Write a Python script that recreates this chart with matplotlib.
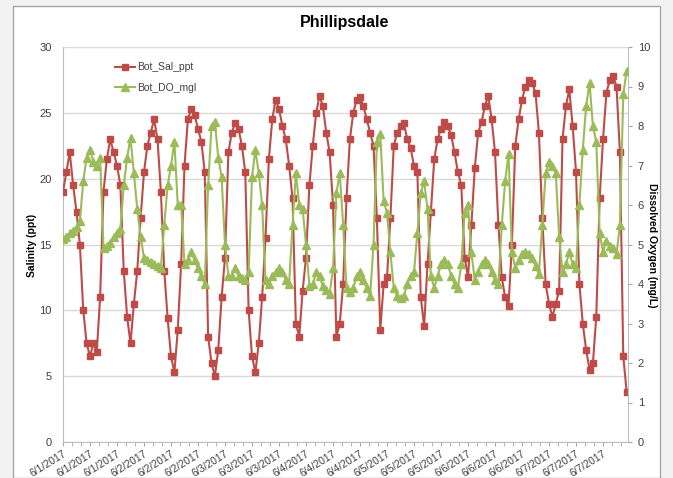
import matplotlib
matplotlib.use("Agg")
import matplotlib.pyplot as plt
import numpy as np
from matplotlib.patches import Rectangle

plt.rcParams['font.family'] = ['Liberation Sans Narrow', 'Liberation Sans', 'DejaVu Sans']

title = "Phillipsdale"
sal_label = "Bot_Sal_ppt"
do_label = "Bot_DO_mgl"

# hourly readings starting 6/1/2017 00:00
salinity = [19.0, 20.5, 22.0, 19.5, 17.5, 15.0, 10.0, 7.5, 6.5, 7.5, 6.8, 11.0,
            19.0, 21.5, 23.0, 22.0, 21.0, 19.5, 13.0, 9.5, 7.5, 10.5, 13.0, 17.0,
            20.5, 22.5, 23.5, 24.5, 23.0, 19.0, 13.0, 9.4, 6.5, 5.3, 8.5, 13.5,
            21.0, 24.5, 25.3, 24.8, 23.8, 22.8, 20.5, 8.0, 6.0, 5.0, 7.0, 11.0,
            14.0, 22.0, 23.5, 24.2, 23.8, 22.5, 20.5, 10.0, 6.5, 5.3, 7.5, 11.0,
            15.5, 21.5, 24.5, 26.0, 25.3, 24.0, 23.0, 21.0, 18.5, 9.0, 8.0, 11.5,
            14.0, 19.5, 22.5, 25.0, 26.3, 25.5, 23.5, 22.0, 18.0, 8.0, 9.0, 12.0,
            18.5, 23.0, 25.0, 26.0, 26.2, 25.5, 24.5, 23.5, 22.5, 17.0, 8.5, 12.0,
            12.5, 17.0, 22.5, 23.5, 24.0, 24.2, 23.0, 22.3, 21.0, 20.5, 11.0, 8.8,
            13.5, 17.5, 21.5, 23.0, 23.8, 24.3, 24.0, 23.3, 22.0, 20.5, 19.5, 14.0,
            12.5, 16.5, 20.8, 23.5, 24.3, 25.5, 26.3, 24.5, 22.0, 16.5, 12.5, 11.0,
            10.3, 15.0, 22.5, 24.5, 26.0, 27.0, 27.5, 27.3, 26.5, 23.5, 17.0, 12.0,
            10.5, 9.5, 10.5, 11.5, 23.0, 25.5, 26.8, 24.0, 20.5, 12.0, 9.0, 7.0,
            5.5, 6.0, 9.5, 18.5, 23.0, 26.5, 27.5, 27.8, 27.0, 22.0, 6.5, 3.8]

dissolved_oxygen = [5.15, 5.2, 5.3, 5.35, 5.45, 5.6, 6.6, 7.2, 7.4, 7.1, 7.0, 7.2,
                    4.9, 4.95, 5.05, 5.2, 5.3, 5.4, 6.5, 7.2, 7.7, 6.8, 5.9, 5.2,
                    4.65, 4.6, 4.55, 4.5, 4.45, 4.4, 5.5, 6.5, 7.0, 7.6, 6.0, 6.0,
                    4.5, 4.6, 4.8, 4.6, 4.4, 4.2, 4.0, 6.5, 8.0, 8.1, 7.2, 6.7,
                    5.0, 4.2, 4.2, 4.4, 4.2, 4.15, 4.1, 4.3, 6.7, 7.4, 6.8, 6.0,
                    4.1, 4.0, 4.2, 4.3, 4.4, 4.3, 4.1, 4.0, 5.5, 6.8, 6.0, 5.9,
                    5.0, 3.95, 4.0, 4.3, 4.2, 3.95, 3.85, 3.75, 4.4, 6.3, 6.8, 5.5,
                    3.9, 3.8, 3.9, 4.2, 4.3, 4.1, 3.9, 3.7, 5.0, 7.6, 7.8, 6.1,
                    5.8, 4.8, 3.9, 3.7, 3.65, 3.7, 4.0, 4.2, 4.3, 5.3, 6.3, 6.6,
                    5.9, 4.2, 3.9, 4.2, 4.5, 4.6, 4.5, 4.2, 4.0, 3.9, 4.5, 5.8,
                    6.0, 4.8, 4.1, 4.3, 4.5, 4.6, 4.5, 4.3, 4.1, 4.0, 5.5, 6.6,
                    7.3, 4.8, 4.4, 4.6, 4.75, 4.8, 4.75, 4.65, 4.45, 4.25, 5.5, 6.8,
                    7.1, 7.0, 6.8, 5.2, 4.3, 4.5, 4.8, 4.5, 4.4, 6.0, 7.4, 8.5,
                    9.1, 8.0, 7.6, 5.3, 4.8, 5.1, 4.95, 4.9, 4.75, 5.5, 8.8, 9.4]

tick_labels = ["6/1/2017", "6/1/2017", "6/1/2017", "6/2/2017", "6/2/2017", "6/2/2017",
               "6/3/2017", "6/3/2017", "6/3/2017", "6/4/2017", "6/4/2017", "6/4/2017",
               "6/5/2017", "6/5/2017", "6/5/2017", "6/6/2017", "6/6/2017", "6/6/2017",
               "6/7/2017", "6/7/2017", "6/7/2017"]

hours = np.arange(len(salinity))

red = "#BE4B48"
green = "#9BBB59"
txt = "#404040"

fig = plt.figure(figsize=(6.73, 4.78), dpi=100)
fig.patch.set_facecolor("#F2F2F2")
fig.patches.append(Rectangle((13/673, 0), 647/673, 1 - 6/478, transform=fig.transFigure,
                             facecolor="white", edgecolor="#A6A6A6", linewidth=1.0, zorder=-5))

ax = fig.add_axes([63/673, 1 - 442/478, 565/673, 395/478])
ax2 = ax.twinx()
ax.set_zorder(1)
ax2.set_zorder(2)
ax.patch.set_visible(False)
ax2.patch.set_visible(False)

l1, = ax.plot(hours, salinity, color=red, marker="s", markersize=5.0, linewidth=1.5,
              label=sal_label, zorder=3)
l2, = ax2.plot(hours, dissolved_oxygen, color=green, marker="^", markersize=5.5, linewidth=1.5,
               label=do_label, zorder=3)

xmax = 167.4
ax.set_xlim(0, xmax)
ax.set_ylim(0, 30)
ax2.set_ylim(0, 10)
ax.set_yticks(range(0, 31, 5))
ax2.set_yticks(range(0, 11, 1))

ax.set_xticks(np.arange(len(tick_labels)) * 8)
ax.set_xticklabels(tick_labels, rotation=32, ha="right", rotation_mode="anchor",
                   fontsize=7.5, color=txt)
ax.set_xticks(np.arange(0, xmax, 8 / 3), minor=True)
ax.tick_params(axis="x", which="both", length=3, color="#A6A6A6", direction="out", pad=2)

ax2.grid(False)
ax.grid(axis="y", color="#D9D9D9", linewidth=1.0)
ax.set_axisbelow(True)

for a in (ax, ax2):
    for s in a.spines.values():
        s.set_visible(False)
ax.spines["left"].set_visible(True)
ax.spines["left"].set_color("#BFBFBF")
ax.spines["bottom"].set_visible(True)
ax.spines["bottom"].set_color("#BFBFBF")
ax2.spines["right"].set_visible(True)
ax2.spines["right"].set_color("#BFBFBF")

ax.tick_params(axis="y", length=0, labelsize=8, labelcolor=txt, pad=8)
ax2.tick_params(axis="y", length=3, color="#A6A6A6", labelsize=8, labelcolor=txt, pad=4)

fig.text(32/673, 1 - 245/478, "Salinity (ppt)", rotation=90, ha="center",
         va="center", fontsize=7.5, fontweight="bold", color="black")
fig.text(652/673, 1 - 245/478, "Dissolved Oxygen (mg/L)", rotation=270, ha="center",
         va="center", fontsize=7.5, fontweight="bold", color="black")

fig.text(345/673, 1 - 22/478, title, ha="center", va="center", fontsize=11.5,
         fontweight="bold", color="black")

leg = ax.legend(handles=[l1, l2], loc="upper left", bbox_to_anchor=(0.075, 0.985),
                frameon=False, fontsize=7.5, handlelength=1.9, labelspacing=1.0,
                handletextpad=0.2)
for t in leg.get_texts():
    t.set_color(txt)

fig.savefig("out.png", dpi=100)
